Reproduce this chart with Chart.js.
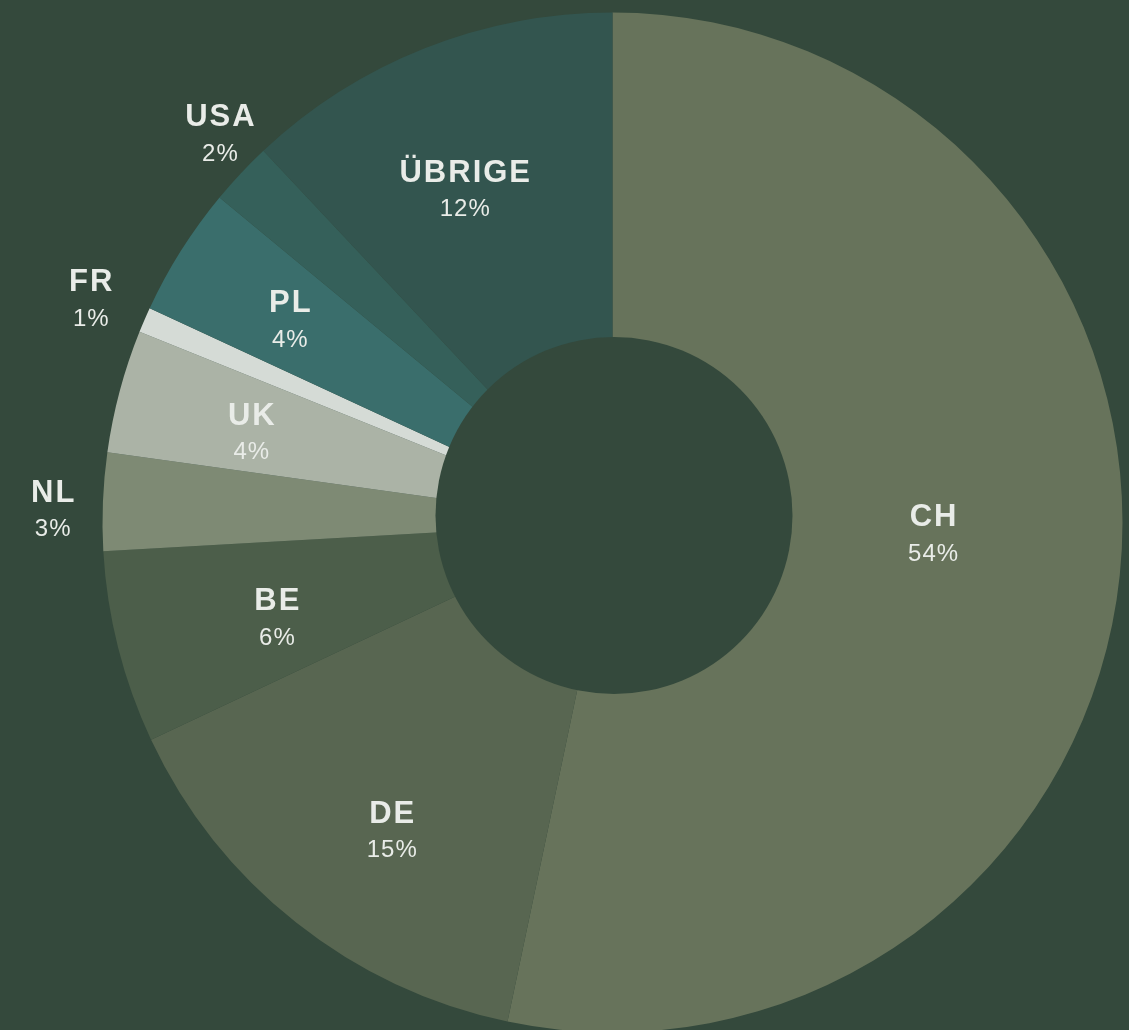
<!DOCTYPE html>
<html>
<head>
<meta charset="utf-8">
<script src="https://cdn.jsdelivr.net/npm/chart.js@4.4.0/dist/chart.umd.min.js"></script>
<style>
  html, body { margin: 0; padding: 0; background: #34493c; overflow: hidden; }
  #wrap { width: 1129px; height: 1040px; }
</style>
</head>
<body>
<div id="wrap"><canvas id="chart" width="1129" height="1040"></canvas></div>
<script>
// Daten (im Uhrzeigersinn ab 12 Uhr)
const countries = ['CH', 'DE', 'BE', 'NL', 'UK', 'FR', 'PL', 'USA', 'ÜBRIGE'];
const shares = [53.3, 14.7, 6.1, 3.1, 3.9, 0.8, 4.1, 2.0, 12.0];
const shareLabels = ['54%', '15%', '6%', '3%', '4%', '1%', '4%', '2%', '12%'];
const sliceColors = ['#67735b', '#586651', '#4c5e4a', '#7e8a74', '#abb3a6', '#d5dbd6', '#3a6e6c', '#35605a', '#33554f'];

// Platzierung der Beschriftungen: Winkelversatz zur Segmentmitte (Grad) und Radius relativ zum Aussenradius
const labelShift = [-3.9, -2.7, -1.6, -1.0, -0.9, -0.2, -0.1, 1.5, -2.3];
const labelRadius = [0.629, 0.743, 0.684, 1.098, 0.730, 1.113, 0.747, 1.083, 0.715];

var bg = '#34493c';
var textColor = '#e9ece8';

// Loch in der Mitte (leicht nach oben versetzt wie im Original)
const holePlugin = {
    id: 'hole',
    afterDatasetsDraw(chart) {
        var arc = chart.getDatasetMeta(0).data[0];
        var ctx = chart.ctx;
        ctx.save();
        ctx.fillStyle = bg;
        ctx.beginPath();
        ctx.arc(arc.x + 1.5, arc.y - 7, arc.outerRadius * 0.35, 0, Math.PI * 2);
        ctx.fill();
        ctx.restore();
    }
};

// Beschriftungen: Land fett, Prozent darunter
const labelPlugin = {
    id: 'sliceLabels',
    afterDraw(chart) {
        var ctx = chart.ctx;
        var meta = chart.getDatasetMeta(0);
        ctx.save();
        ctx.fillStyle = textColor;
        ctx.textAlign = 'center';
        ctx.textBaseline = 'alphabetic';
        meta.data.forEach((arc, i) => {
            var mid = (arc.startAngle + arc.endAngle) / 2 + labelShift[i] * Math.PI / 180;
            var r = arc.outerRadius * labelRadius[i];
            var x = arc.x + Math.cos(mid) * r;
            var y = arc.y + Math.sin(mid) * r;

            ctx.font = 'bold 31px "Liberation Sans", Arial, sans-serif';
            ctx.letterSpacing = '2px';
            ctx.fillText(countries[i], x + 1, y - 7.5);

            ctx.font = '24px "Liberation Sans", Arial, sans-serif';
            ctx.letterSpacing = '1px';
            ctx.fillText(shareLabels[i], x + 0.5, y + 27);
        });
        ctx.restore();
    }
};

var ctx = document.getElementById('chart').getContext('2d');
var chart = new Chart(ctx, {
    type: 'pie',
    data: {
        labels: countries,
        datasets: [{
            data: shares,
            backgroundColor: sliceColors,
            borderWidth: 0,
            hoverOffset: 0
        }]
    },
    options: {
        responsive: false,
        animation: false,
        events: [],
        layout: {
            padding: { left: 102.5, right: 6.5, top: 12.5, bottom: 7.5 }
        },
        plugins: {
            legend: { display: false },
            tooltip: { enabled: false }
        }
    },
    plugins: [holePlugin, labelPlugin]
});
</script>
</body>
</html>
